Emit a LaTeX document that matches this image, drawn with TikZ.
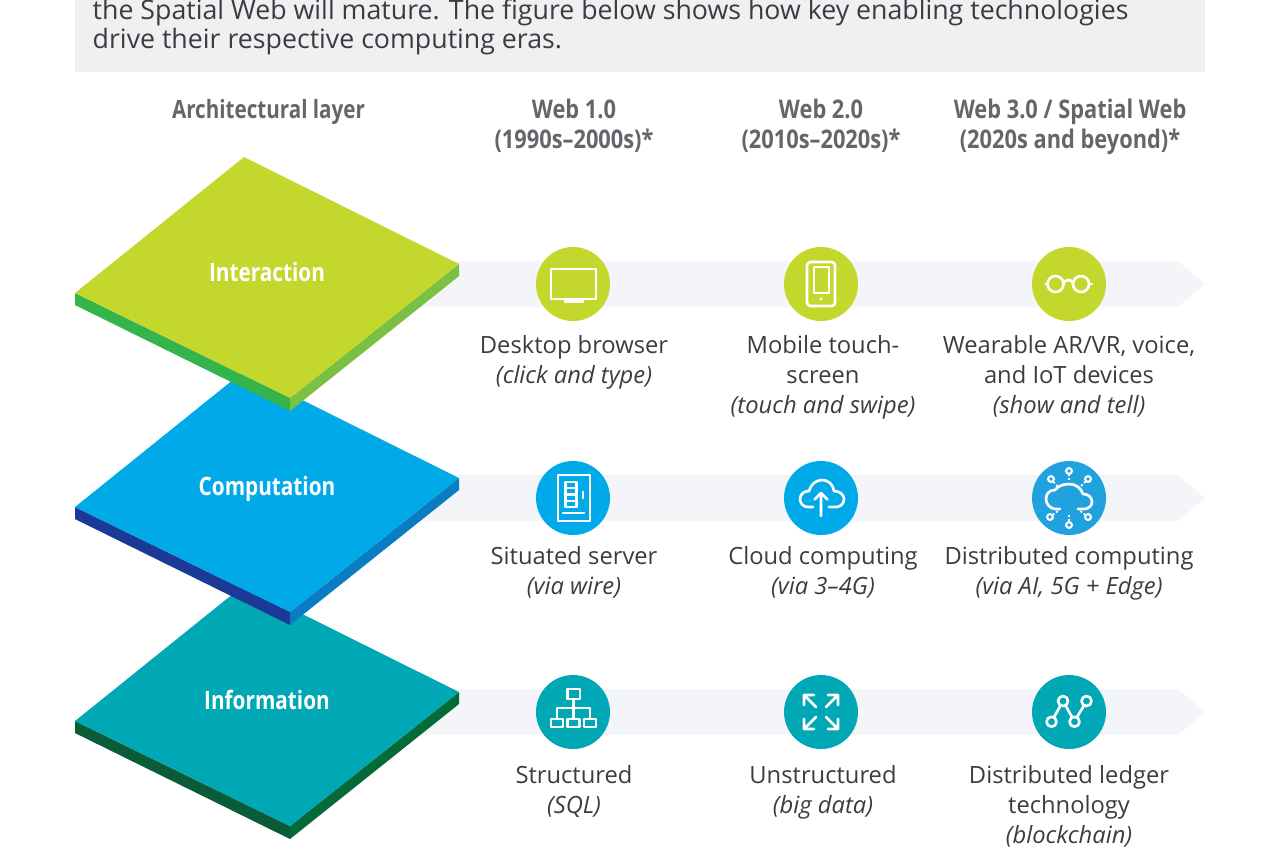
\documentclass[tikz,border=0pt]{standalone}
\usepackage{fontspec}
\setmainfont{Open Sans}
\newfontfamily\headfont[FakeStretch=0.85]{Open Sans}
\newfontfamily\layerfont[FakeStretch=0.82]{Open Sans}
\definecolor{limetop}{HTML}{C4D72D}
\definecolor{limeleft}{HTML}{34B44A}
\definecolor{limeright}{HTML}{7AC143}
\definecolor{bluetop}{HTML}{00A9E8}
\definecolor{blueleft}{HTML}{1A3A96}
\definecolor{blueright}{HTML}{0A7CC1}
\definecolor{tealtop}{HTML}{00A7B5}
\definecolor{tealleft}{HTML}{0A5C38}
\definecolor{tealright}{HTML}{046A38}
\definecolor{distblue}{HTML}{1FA2DE}
\definecolor{bandgray}{HTML}{F4F5F8}
\definecolor{boxgray}{HTML}{F0F0F2}
\definecolor{headgray}{HTML}{63666A}
\definecolor{bodygray}{HTML}{3A3C40}
\tikzset{
	bodytext/.style={inner sep=0pt,text=bodygray,align=center,anchor=north,font=\fontsize{6.75}{8.45}\selectfont},
	headtext/.style={inner sep=0pt,text=headgray,align=center,anchor=north,font=\fontsize{7.3}{8.45}\headfont\bfseries},
	layertext/.style={inner sep=0pt,text=white,anchor=base,font=\fontsize{7.2}{8.5}\layerfont\bfseries},
	iconline/.style={draw=white,line width=.75pt,line cap=round,line join=round},
	thinline/.style={draw=white,line width=.62pt,line cap=round,line join=round}
}
\begin{document}
\begin{tikzpicture}[x=0.01cm,y=-0.01cm,line cap=round,line join=round,>=stealth]
	\useasboundingbox (0,0) rectangle (1280,853);
	\fill[boxgray] (75,-5) rectangle (1205,72);
	\node[anchor=north west,inner sep=0pt,text=bodygray,align=left,font=\fontsize{7.6}{8.4}\selectfont] (intro) at (92,-2) {the Spatial Web will mature. The figure below shows how key enabling technologies\\drive their respective computing eras.};
	\node[headtext,font=\fontsize{7.15}{8.45}\layerfont\bfseries] (headlayer) at (268.5,98.5) {Architectural layer};
	\node[headtext] (headone) at (574,98.5) {Web 1.0\\(1990s–2000s)*};
	\node[headtext] (headtwo) at (821,98.5) {Web 2.0\\(2010s–2020s)*};
	\node[headtext] (headthree) at (1070,98.5) {Web 3.0 / Spatial Web\\(2020s and beyond)*};
	\foreach \dy in {0,214,428}
	\fill[bandgray,shift={(0,\dy)}] (420,261) -- (1178,261) -- (1205,284) -- (1178,307) -- (420,307) -- cycle;
	\foreach \dy/\topc/\leftc/\rightc/\layername/\layerlabel in {428/tealtop/tealleft/tealright/information/Information,214/bluetop/blueleft/blueright/computation/Computation,0/limetop/limeleft/limeright/interaction/Interaction}{
		\begin{scope}[shift={(0,\dy)}]
			\fill[\leftc] (75,293) -- (290,398) -- (290,411) -- (75,305) -- cycle;
			\fill[\rightc] (459,264) -- (290,398) -- (290,411) -- (459,276) -- cycle;
			\fill[\topc] (244,157) -- (459,264) -- (290,398) -- (75,293) -- cycle;
			\node[layertext] (\layername) at (267,281) {\layerlabel};
		\end{scope}
	}
	\foreach \cx/\cy/\circc in {573/284/limetop,821/284/limetop,1069/284/limetop,573/498/bluetop,821/498/bluetop,1069/498/distblue,573/712/tealtop,821/712/tealtop,1069/712/tealtop}
	\fill[\circc] (\cx,\cy) circle (37);
	% interaction icons
	\draw[iconline] (551,269) rectangle (596,299);
	\fill[white] (563.5,299) rectangle (584,302.5);
	\draw[iconline,rounded corners=1pt] (807,262) rectangle (835,306);
	\draw[thinline] (814,267) rectangle (829,293);
	\fill[white] (821,299) circle (1.7);
	\draw[iconline] (1055.5,284) circle (8) (1081,284) circle (8);
	\draw[iconline] (1063.5,283) .. controls (1066,279) and (1071,279) .. (1073,283);
	\draw[iconline] (1045.5,284) -- (1047.5,284) (1089,284) -- (1092,284);
	% computation icons
	\draw[iconline] (558,475) rectangle (590,521);
	\draw[thinline] (565.5,482) rectangle (576.5,507) (565.5,488) -- (576.5,488) (565.5,494.5) -- (576.5,494.5) (565.5,501) -- (576.5,501);
	\draw[iconline] (583,492) -- (583,498) (563,513) -- (584,513);
	\draw[iconline] (813,507) -- (808,507) .. controls (803,507) and (800,503) .. (800,499) .. controls (800,494) and (804,491) .. (809,491) .. controls (811,484) and (816,480) .. (822,480) .. controls (828,480) and (833,484) .. (834,491) .. controls (840,491) and (844,495) .. (844,499) .. controls (844,503) and (841,507) .. (836,507) -- (829,507);
	\draw[iconline] (821,516) -- (821,493) (814.5,499.5) -- (821,493) -- (827.5,499.5);
	\draw[iconline] (1060,509) -- (1056,509) .. controls (1050,509) and (1046,504) .. (1046,499) .. controls (1046,494) and (1049,490) .. (1055,490) .. controls (1057,487) and (1062,484) .. (1069,484) .. controls (1076,484) and (1081,488) .. (1083,494) .. controls (1088,494) and (1092,497) .. (1092,502) .. controls (1092,506) and (1088,509) .. (1084,509) -- (1078,509);
	\foreach \nx/\ny/\ex/\ey in {1069/471/1069/481,1051/479/1059/488,1088/479/1080/487,1050/517/1059/510,1088/517/1079/510,1069/525/1069/513}{
		\draw[white,line width=.6pt] (\nx,\ny) circle (2.9);
		\draw[white,line width=.5pt,dash pattern=on .6pt off .6pt,line cap=butt] (\nx+.3*\ex-.3*\nx,\ny+.3*\ey-.3*\ny) -- (\ex,\ey);
	}
	% information icons
	\draw[thinline] (567.5,689) rectangle (580,699);
	\draw[thinline] (573.5,699) -- (573.5,718) (557,718) -- (557,708) -- (590,708) -- (590,718);
	\foreach \bx in {551,567.5,584}
	\draw[thinline] (\bx,719) rectangle (\bx+12,727);
	\foreach \sx/\sy in {1/1,-1/1,1/-1,-1/-1}
	\draw[iconline,shift={(821,712)},xscale=\sx,yscale=\sy] (5,5) -- (17,17) (17,7) -- (17,17) -- (7,17);
	\draw[iconline] (1051.5,721.7) circle (5) (1063,701) circle (5) (1074.5,721.7) circle (5) (1086.5,701) circle (5);
	\draw[iconline] (1054,717) -- (1060.5,705.5) (1065.5,705.5) -- (1072,717) (1077,717) -- (1084,705.5);
	% row texts
	\node[bodytext] (desktoptext) at (574,335) {Desktop browser\\\textit{(click and type)}};
	\node[bodytext] (mobiletext) at (823,335) {Mobile touch-\\screen\\\textit{(touch and swipe)}};
	\node[bodytext] (wearabletext) at (1069,335) {Wearable AR/VR, voice,\\and IoT devices\\\textit{(show and tell)}};
	\node[bodytext] (situatedtext) at (574,546) {Situated server\\\textit{(via wire)}};
	\node[bodytext] (cloudtext) at (823,546) {Cloud computing\\\textit{(via 3–4G)}};
	\node[bodytext] (distributedtext) at (1069,546) {Distributed computing\\\textit{(via AI, 5G + Edge)}};
	\node[bodytext] (structuredtext) at (574,765) {Structured\\\textit{(SQL)}};
	\node[bodytext] (unstructuredtext) at (823,765) {Unstructured\\\textit{(big data)}};
	\node[bodytext] (ledgertext) at (1069,765) {Distributed ledger\\technology\\\textit{(blockchain)}};
\end{tikzpicture}
\end{document}
